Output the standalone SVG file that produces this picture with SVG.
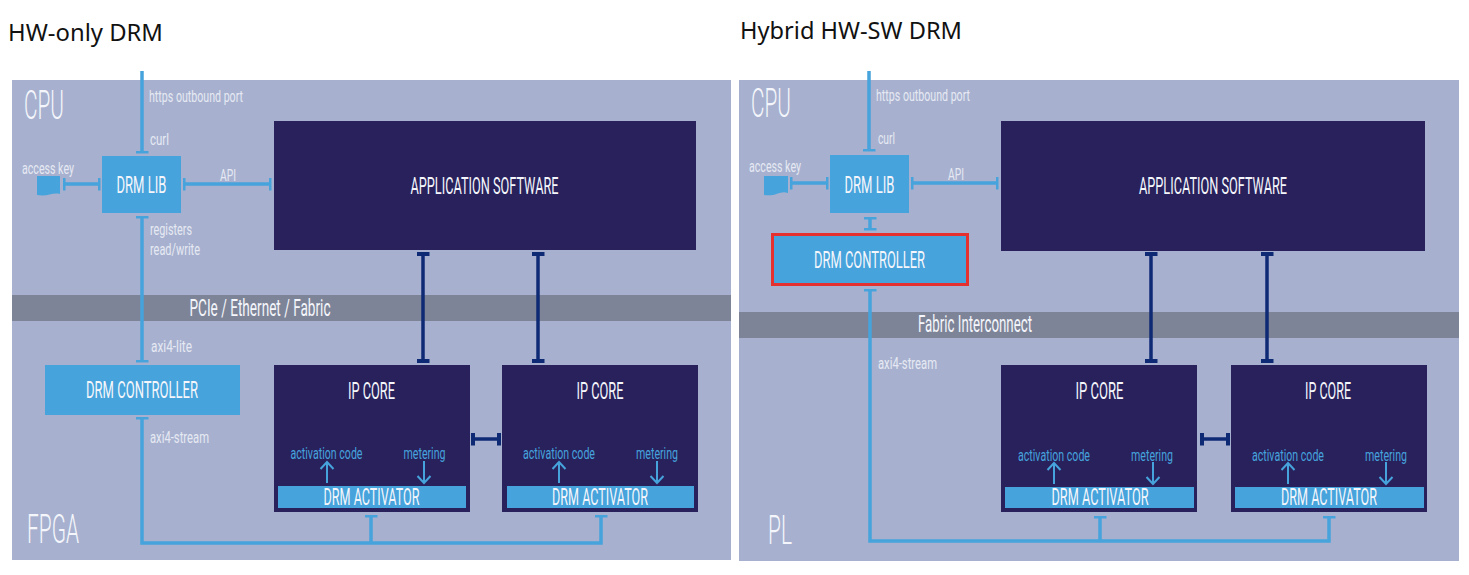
<svg xmlns="http://www.w3.org/2000/svg" width="1469" height="575" viewBox="0 0 1469 575">
<style>
text{font-family:"Roboto","Liberation Sans",sans-serif;fill:#f4f6fb;text-anchor:middle;font-weight:400}
.title{font-family:"Noto Sans","Liberation Sans",sans-serif;fill:#111;text-anchor:start;font-weight:400;font-size:23px}
.region{font-size:40px;text-anchor:start;font-weight:300}
.band-t{font-size:24px}
.lbl{font-size:17px;text-anchor:start;fill:#e6e9f3}
.node{font-size:24px}
.blue{font-size:16px;fill:#46a3dc}
.panel{fill:#a7b1cf}
.band{fill:#7e8498}
.lb{fill:#46a3dc}
.dk{fill:#28215c}
.wire{stroke:#46a3dc;stroke-width:3.5;fill:none}
.thin{stroke:#46a3dc;stroke-width:2;fill:none}
.navy{stroke:#0f2a75;stroke-width:3.5;fill:none}
</style>
<defs>
<marker id="capL" markerUnits="userSpaceOnUse" markerWidth="3" markerHeight="13" refX="1.500" refY="6.500" orient="auto"><rect width="3" height="13" fill="#46a3dc"/></marker>
<marker id="capN" markerUnits="userSpaceOnUse" markerWidth="4" markerHeight="13" refX="2" refY="6.500" orient="auto"><rect width="4" height="13" fill="#0f2a75"/></marker>
<marker id="arr" markerUnits="userSpaceOnUse" markerWidth="16" markerHeight="16" refX="13" refY="8" orient="auto"><path d="M6 1.500L13 8L6 14.500" fill="none" stroke="#46a3dc" stroke-width="2"/></marker>
</defs>
<rect width="1469" height="575" fill="#fff"/>
<text class="title" x="8" y="41" textLength="155" lengthAdjust="spacingAndGlyphs">HW-only DRM</text>
<text class="title" x="740" y="39" textLength="222" lengthAdjust="spacingAndGlyphs">Hybrid HW-SW DRM</text>

<g id="left-panel">
<rect class="panel" x="12" y="80" width="719" height="480"/>
<rect class="band" x="12" y="295" width="719" height="26"/>
<text class="region" x="24" y="119" textLength="40" lengthAdjust="spacingAndGlyphs">CPU</text>
<text class="region" x="27" y="543" textLength="52" lengthAdjust="spacingAndGlyphs">FPGA</text>
<text class="band-t" x="260" y="316" textLength="141" lengthAdjust="spacingAndGlyphs">PCIe / Ethernet / Fabric</text>
</g>
<g id="right-panel">
<rect class="panel" x="739" y="80" width="720" height="481"/>
<rect class="band" x="739" y="312" width="720" height="26"/>
<text class="region" x="751" y="117" textLength="40" lengthAdjust="spacingAndGlyphs">CPU</text>
<text class="region" x="768" y="544" textLength="24" lengthAdjust="spacingAndGlyphs">PL</text>
<text class="band-t" x="975" y="332" textLength="114" lengthAdjust="spacingAndGlyphs">Fabric Interconnect</text>
</g>

<g id="left-labels">
<text class="lbl" x="149" y="102" textLength="94" lengthAdjust="spacingAndGlyphs">https outbound port</text>
<text class="lbl" x="150" y="145" textLength="19" lengthAdjust="spacingAndGlyphs">curl</text>
<text class="lbl" x="22" y="174" textLength="52" lengthAdjust="spacingAndGlyphs">access key</text>
<text class="lbl" x="220" y="181" textLength="16" lengthAdjust="spacingAndGlyphs">API</text>
<text class="lbl" x="150" y="235" textLength="42" lengthAdjust="spacingAndGlyphs">registers</text>
<text class="lbl" x="150" y="255" textLength="50" lengthAdjust="spacingAndGlyphs">read/write</text>
<text class="lbl" x="151" y="352" textLength="41" lengthAdjust="spacingAndGlyphs">axi4-lite</text>
<text class="lbl" x="150" y="443" textLength="59" lengthAdjust="spacingAndGlyphs">axi4-stream</text>
</g>
<g id="right-labels">
<text class="lbl" x="876" y="101" textLength="94" lengthAdjust="spacingAndGlyphs">https outbound port</text>
<text class="lbl" x="878" y="144" textLength="17" lengthAdjust="spacingAndGlyphs">curl</text>
<text class="lbl" x="749" y="172" textLength="52" lengthAdjust="spacingAndGlyphs">access key</text>
<text class="lbl" x="948" y="180" textLength="16" lengthAdjust="spacingAndGlyphs">API</text>
<text class="lbl" x="878" y="369" textLength="59" lengthAdjust="spacingAndGlyphs">axi4-stream</text>
</g>

<g id="l-access-key"><path class="lb" d="M37 176H60V194C52 192 48 197 37 195Z"/></g>
<g id="l-drm-lib"><rect class="lb" x="102" y="156" width="79" height="57"/><text class="node" x="141.500" y="193" textLength="50" lengthAdjust="spacingAndGlyphs">DRM LIB</text></g>
<g id="l-app"><rect class="dk" x="274" y="121" width="422" height="129"/><text class="node" x="484.500" y="194" textLength="148" lengthAdjust="spacingAndGlyphs">APPLICATION SOFTWARE</text></g>
<g id="l-controller"><rect class="lb" x="45" y="365" width="195" height="50"/><text class="node" x="142" y="398" textLength="112" lengthAdjust="spacingAndGlyphs">DRM CONTROLLER</text></g>
<g id="l-ip1"><rect class="dk" x="274" y="365" width="196" height="147"/><text class="node" x="371.500" y="399" textLength="47" lengthAdjust="spacingAndGlyphs">IP CORE</text>
<text class="blue" x="326.500" y="459" textLength="72" lengthAdjust="spacingAndGlyphs">activation code</text><text class="blue" x="424.500" y="459" textLength="42" lengthAdjust="spacingAndGlyphs">metering</text>
<rect class="lb" x="278" y="486" width="188" height="22"/><text class="node" x="371.500" y="505" textLength="96" lengthAdjust="spacingAndGlyphs">DRM ACTIVATOR</text></g>
<g id="l-ip2"><rect class="dk" x="502" y="365" width="196" height="147"/><text class="node" x="600" y="399" textLength="47" lengthAdjust="spacingAndGlyphs">IP CORE</text>
<text class="blue" x="559" y="459" textLength="72" lengthAdjust="spacingAndGlyphs">activation code</text><text class="blue" x="657" y="459" textLength="42" lengthAdjust="spacingAndGlyphs">metering</text>
<rect class="lb" x="507" y="486" width="187" height="22"/><text class="node" x="600" y="505" textLength="96" lengthAdjust="spacingAndGlyphs">DRM ACTIVATOR</text></g>

<g id="r-access-key"><path class="lb" d="M764 176H788V193C780 190 776 197 764 195Z"/></g>
<g id="r-drm-lib"><rect class="lb" x="830" y="155" width="79" height="58"/><text class="node" x="869.500" y="193" textLength="50" lengthAdjust="spacingAndGlyphs">DRM LIB</text></g>
<g id="r-app"><rect class="dk" x="1001" y="121" width="424" height="130"/><text class="node" x="1213" y="194" textLength="148" lengthAdjust="spacingAndGlyphs">APPLICATION SOFTWARE</text></g>
<g id="r-controller"><rect class="lb" x="772.500" y="234.500" width="195" height="50" stroke="#e53030" stroke-width="3"/><text class="node" x="869.500" y="268" textLength="111" lengthAdjust="spacingAndGlyphs">DRM CONTROLLER</text></g>
<g id="r-ip1"><rect class="dk" x="1001" y="365" width="196" height="147"/><text class="node" x="1099.500" y="399" textLength="48" lengthAdjust="spacingAndGlyphs">IP CORE</text>
<text class="blue" x="1054" y="461" textLength="72" lengthAdjust="spacingAndGlyphs">activation code</text><text class="blue" x="1152" y="461" textLength="42" lengthAdjust="spacingAndGlyphs">metering</text>
<rect class="lb" x="1005" y="487" width="189" height="21"/><text class="node" x="1100" y="505" textLength="97" lengthAdjust="spacingAndGlyphs">DRM ACTIVATOR</text></g>
<g id="r-ip2"><rect class="dk" x="1231" y="365" width="196" height="147"/><text class="node" x="1328" y="399" textLength="46" lengthAdjust="spacingAndGlyphs">IP CORE</text>
<text class="blue" x="1288" y="461" textLength="72" lengthAdjust="spacingAndGlyphs">activation code</text><text class="blue" x="1386" y="461" textLength="42" lengthAdjust="spacingAndGlyphs">metering</text>
<rect class="lb" x="1235" y="487" width="189" height="21"/><text class="node" x="1329" y="505" textLength="96" lengthAdjust="spacingAndGlyphs">DRM ACTIVATOR</text></g>

<g id="connectors">
<path class="wire" d="M142 71V152" marker-end="url(#capL)"/>
<path class="wire" d="M142 217V361" marker-start="url(#capL)" marker-end="url(#capL)"/>
<path class="wire" d="M64 184H99" marker-start="url(#capL)" marker-end="url(#capL)"/>
<path class="wire" d="M184 184H270" marker-start="url(#capL)" marker-end="url(#capL)"/>
<path class="wire" d="M142 418V543H601V516" marker-start="url(#capL)" marker-end="url(#capL)"/>
<path class="wire" d="M371 543V516" marker-end="url(#capL)"/>
<path class="navy" d="M423 254V361" marker-start="url(#capN)" marker-end="url(#capN)"/>
<path class="navy" d="M538 254V361" marker-start="url(#capN)" marker-end="url(#capN)"/>
<path class="navy" d="M473 439H499" marker-start="url(#capN)" marker-end="url(#capN)"/>
<path class="thin" d="M327 483V462" marker-end="url(#arr)"/>
<path class="thin" d="M424 461V483" marker-end="url(#arr)"/>
<path class="thin" d="M559 483V462" marker-end="url(#arr)"/>
<path class="thin" d="M657 461V483" marker-end="url(#arr)"/>

<path class="wire" d="M869 71V150" marker-end="url(#capL)"/>
<path class="wire" d="M870 218V229" marker-start="url(#capL)" marker-end="url(#capL)"/>
<path class="wire" d="M791 183H827" marker-start="url(#capL)" marker-end="url(#capL)"/>
<path class="wire" d="M912 183H997" marker-start="url(#capL)" marker-end="url(#capL)"/>
<path class="wire" d="M870 290V541H1329V517" marker-start="url(#capL)" marker-end="url(#capL)"/>
<path class="wire" d="M1100 541V517" marker-end="url(#capL)"/>
<path class="navy" d="M1151 254V361" marker-start="url(#capN)" marker-end="url(#capN)"/>
<path class="navy" d="M1267 254V361" marker-start="url(#capN)" marker-end="url(#capN)"/>
<path class="navy" d="M1202 439H1228" marker-start="url(#capN)" marker-end="url(#capN)"/>
<path class="thin" d="M1054 484V463" marker-end="url(#arr)"/>
<path class="thin" d="M1153 462V484" marker-end="url(#arr)"/>
<path class="thin" d="M1288 484V463" marker-end="url(#arr)"/>
<path class="thin" d="M1386 462V484" marker-end="url(#arr)"/>
</g>
</svg>
